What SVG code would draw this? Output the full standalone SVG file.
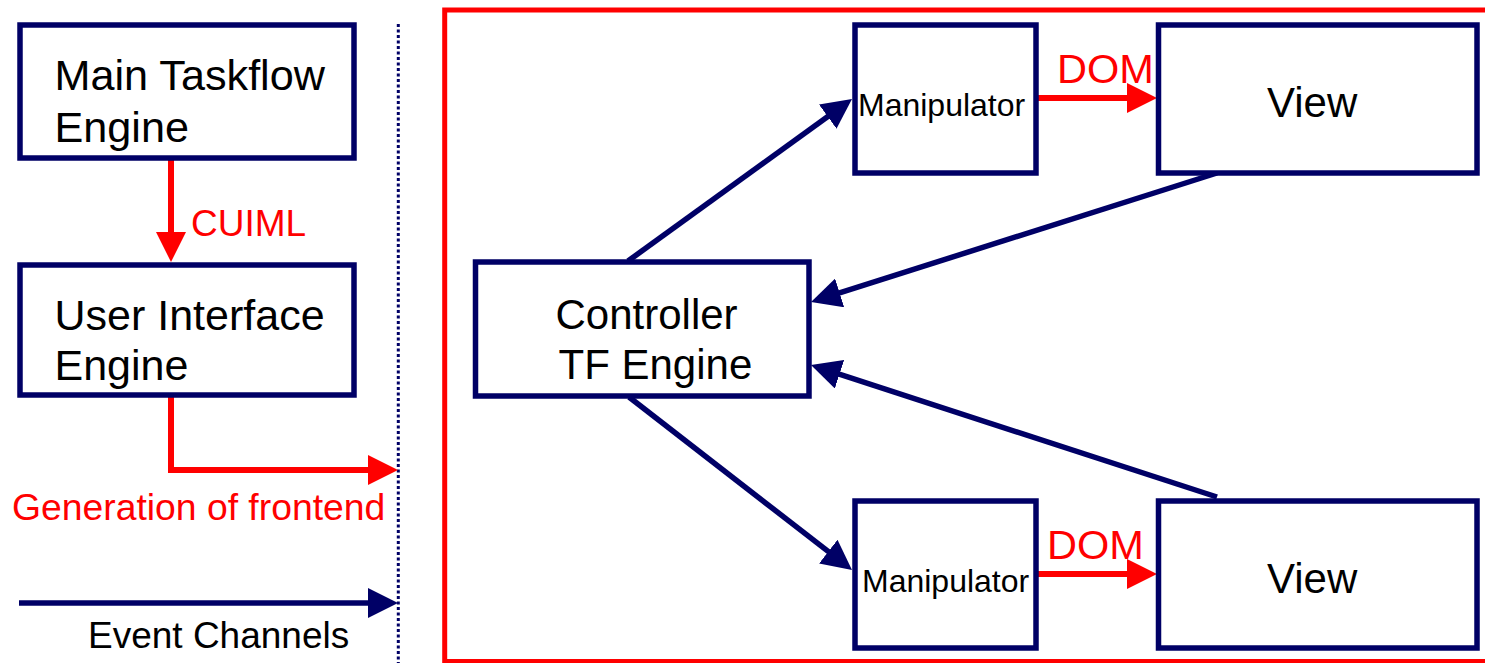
<svg xmlns="http://www.w3.org/2000/svg" width="1485" height="663" viewBox="0 0 1485 663">
<style>
.box{fill:#fff;stroke:#000066;stroke-width:5.5}
.t{font-family:"Liberation Sans",Arial,sans-serif;fill:#000}
.r{font-family:"Liberation Sans",Arial,sans-serif;fill:#f00}
.navy{fill:none;stroke:#000066;stroke-width:5.5}
.red{fill:none;stroke:#f00;stroke-width:6}
</style>
<defs>
<marker id="hn" markerUnits="userSpaceOnUse" markerWidth="30" markerHeight="30" viewBox="0 0 30 30" refX="10" refY="15" orient="auto"><path d="M0,0 L30,15 L0,30 z" fill="#000066"/></marker>
<marker id="hr" markerUnits="userSpaceOnUse" markerWidth="30" markerHeight="30" viewBox="0 0 30 30" refX="10" refY="15" orient="auto"><path d="M0,0 L30,15 L0,30 z" fill="#f00"/></marker>
</defs>
<rect width="1485" height="663" fill="#fff"/>
<g id="frontend-frame"><rect x="444.7" y="10" width="1050" height="651.5" fill="none" stroke="#f00" stroke-width="5"/></g>
<g id="separator"><line x1="398.3" y1="24" x2="398.3" y2="663" stroke="#000066" stroke-width="3" stroke-dasharray="3 2.5"/></g>
<g id="connectors">
<path class="red" d="M171,158 V242" marker-end="url(#hr)"/>
<path class="red" d="M171,396 V470 H378" marker-end="url(#hr)"/>
<path class="navy" d="M19,603 H378" marker-end="url(#hn)"/>
<path class="red" d="M1036,98 H1137" marker-end="url(#hr)"/>
<path class="red" d="M1036,574 H1137" marker-end="url(#hr)"/>
<path class="navy" d="M628,261 L835.8,110.7" marker-end="url(#hn)"/>
<path class="navy" d="M629,397 L836.2,557.7" marker-end="url(#hn)"/>
<path class="navy" d="M1217,173 L830.1,295.9" marker-end="url(#hn)"/>
<path class="navy" d="M1217,497 L830,371.2" marker-end="url(#hn)"/>
</g>
<g id="main-taskflow-engine"><rect class="box" x="20" y="25" width="334" height="133"/><text class="t" x="54.5" y="90" font-size="43.2">Main Taskflow</text><text class="t" x="54.5" y="142" font-size="43.2">Engine</text></g>
<g id="user-interface-engine"><rect class="box" x="20" y="265" width="334" height="130"/><text class="t" x="54.5" y="330" font-size="43">User Interface</text><text class="t" x="54.5" y="380" font-size="43">Engine</text></g>
<g id="controller"><rect class="box" x="475.5" y="262" width="333.5" height="134"/><text class="t" x="555.5" y="329" font-size="42">Controller</text><text class="t" x="558.5" y="379" font-size="42">TF Engine</text></g>
<g id="manipulator-top"><rect class="box" x="855" y="25" width="181" height="148"/><text class="t" x="858" y="116" font-size="32">Manipulator</text></g>
<g id="view-top"><rect class="box" x="1158.5" y="25" width="318.5" height="148"/><text class="t" x="1267" y="117" font-size="42">View</text></g>
<g id="manipulator-bottom"><rect class="box" x="855" y="501" width="181" height="147"/><text class="t" x="862" y="592" font-size="32">Manipulator</text></g>
<g id="view-bottom"><rect class="box" x="1158.5" y="501" width="318.5" height="147"/><text class="t" x="1267" y="593" font-size="42">View</text></g>
<g id="labels">
<text class="r" x="191" y="236" font-size="37">CUIML</text>
<text class="r" x="12" y="520" font-size="37.3">Generation of frontend</text>
<text class="t" x="88" y="648" font-size="37">Event Channels</text>
<text class="r" x="1057" y="83" font-size="41.5">DOM</text>
<text class="r" x="1047" y="559" font-size="41.5">DOM</text>
</g>
</svg>
